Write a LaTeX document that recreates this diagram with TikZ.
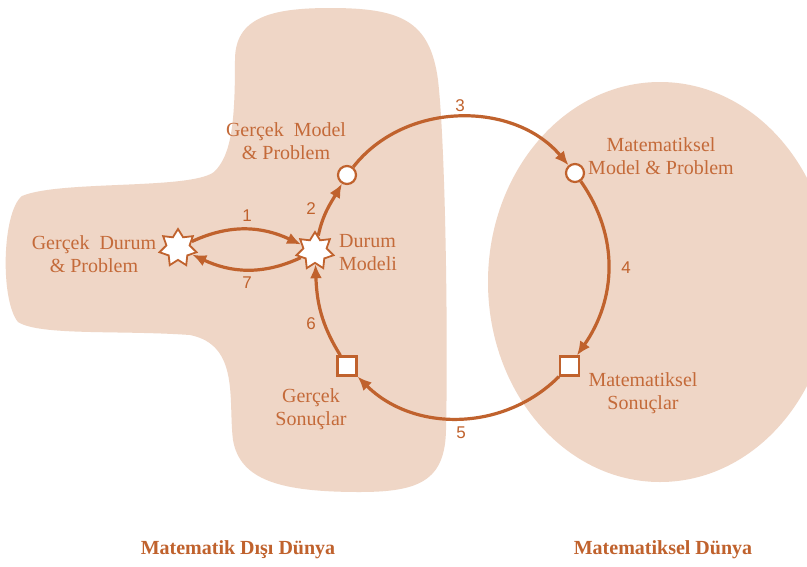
\documentclass[tikz,border=0pt]{standalone}
\usepackage{fontspec}
\setmainfont{Liberation Serif}
\newfontfamily\numfont{Liberation Sans}
\usetikzlibrary{shapes.geometric,arrows.meta}
\definecolor{brn}{HTML}{C0622D}
\definecolor{txtc}{HTML}{C46A39}
\definecolor{blob}{HTML}{EFD6C6}
\tikzset{
  lbl/.style={text=txtc,font=\fontsize{20}{23}\selectfont,align=center,inner sep=0pt},
  num/.style={text=brn,font=\numfont\fontsize{17}{19}\selectfont,inner sep=0pt},
  starnode/.style={star,star points=7,star point ratio=1.6,minimum size=38pt,inner sep=0pt,draw=brn,line width=1.8pt,fill=white},
  circnode/.style={circle,minimum size=18pt,inner sep=0pt,draw=brn,line width=2.2pt,fill=white},
  sqnode/.style={rectangle,minimum size=19pt,inner sep=0pt,draw=brn,line width=2.2pt,fill=white},
  conn/.style={draw=brn,line width=3.2pt,-{Latex[length=14pt,width=12pt]}},
  title/.style={text=brn,font=\bfseries\fontsize{20}{24}\selectfont,inner sep=0pt}
}
\begin{document}
\begin{tikzpicture}[x=1pt,y=1pt]
\fill[white] (0,0) rectangle (807,-566);
\useasboundingbox (0,0) rectangle (807,-566);
\clip (0,0) rectangle (807,-566);
% left blob
\fill[blob] (235,-60) .. controls (235,-18) and (270,-8) .. (330,-8)
  .. controls (400,-8) and (430,-20) .. (438,-80)
  .. controls (446,-150) and (448,-350) .. (446,-430)
  .. controls (445,-480) and (420,-492) .. (360,-492)
  .. controls (280,-492) and (240,-480) .. (233,-440)
  .. controls (228,-400) and (240,-345) .. (190,-335)
  .. controls (120,-330) and (40,-336) .. (18,-322)
  .. controls (0,-300) and (2,-212) .. (22,-196)
  .. controls (60,-180) and (190,-190) .. (214,-172)
  .. controls (232,-155) and (235,-120) .. (235,-60) -- cycle;
% right ellipse
\fill[blob] (660,-282) ellipse[x radius=172,y radius=200];
% nodes
\node[starnode] (LS) at (178,-248) {};
\node[starnode] (DM) at (315,-251) {};
\node[circnode] (G) at (347,-175) {};
\node[circnode] (M) at (575,-173) {};
\node[sqnode] (MS) at (569.5,-366) {};
\node[sqnode] (GS) at (347,-366) {};
% texts
\node[lbl] (tLS) at (94,-254) {Gerçek\ \ Durum\\\& Problem};
\node[lbl,align=left,anchor=west] (tDM) at (339,-253) {Durum\\Modeli};
\node[lbl] (tG) at (286,-141) {Gerçek\ \ Model\\\& Problem};
\node[lbl] (tM) at (661,-156) {Matematiksel\\Model \& Problem};
\node[lbl] (tMS) at (643,-393) {Matematiksel\\Sonuçlar};
\node[lbl] (tGS) at (311,-409) {Gerçek\\Sonuçlar};
% connectors
\draw[conn] (LS) to[out=25,in=155] (DM);
\draw[conn] (DM) to[out=-155,in=-25] (LS);
\draw[conn] (DM) to[out=78,in=240] (G);
\draw[conn] (G) to[out=52,in=130] (M);
\draw[conn] (M) to[out=-55,in=55] (MS);
\draw[conn] (MS) to[out=-135,in=-45] (GS);
\draw[conn] (GS) to[out=122,in=272] (DM);
% numbers
\node[num] (n1) at (247,-216) {1};
\node[num] (n7) at (247,-283) {7};
\node[num] (n2) at (311,-209) {2};
\node[num] (n3) at (460,-106) {3};
\node[num] (n4) at (626,-268) {4};
\node[num] (n5) at (461,-433) {5};
\node[num] (n6) at (311,-324) {6};
% bottom titles
\node[title] (w1) at (238,-550) {Matematik Dışı Dünya};
\node[title] (w2) at (663,-550) {Matematiksel Dünya};
\end{tikzpicture}
\end{document}
